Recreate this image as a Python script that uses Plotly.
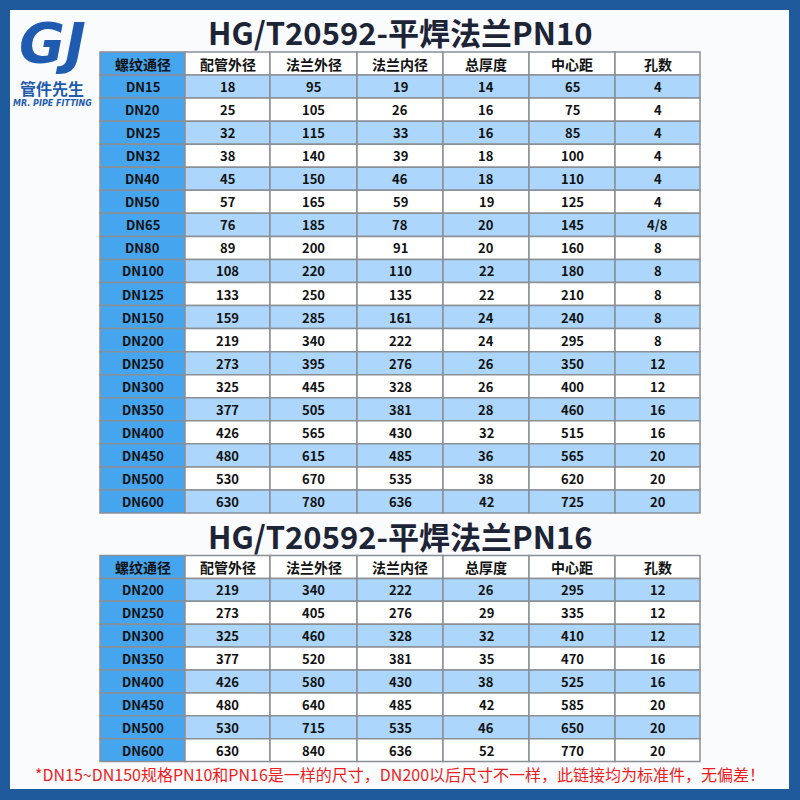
import plotly.graph_objects as go

headers = ["螺纹通径", "配管外径", "法兰外径", "法兰内径", "总厚度", "中心距", "孔数"]
dn1 = ["DN15","DN20","DN25","DN32","DN40","DN50","DN65","DN80","DN100","DN125","DN150","DN200","DN250","DN300","DN350","DN400","DN450","DN500","DN600"]
pipe_od1 = [18,25,32,38,45,57,76,89,108,133,159,219,273,325,377,426,480,530,630]
flange_od1 = [95,105,115,140,150,165,185,200,220,250,285,340,395,445,505,565,615,670,780]
flange_id1 = [19,26,33,39,46,59,78,91,110,135,161,222,276,328,381,430,485,535,636]
thick1 = [14,16,16,18,18,19,20,20,22,22,24,24,26,26,28,32,36,38,42]
pcd1 = [65,75,85,100,110,125,145,160,180,210,240,295,350,400,460,515,565,620,725]
holes1 = ["4","4","4","4","4","4","4/8","8","8","8","8","8","12","12","16","16","20","20","20"]

dn2 = ["DN200","DN250","DN300","DN350","DN400","DN450","DN500","DN600"]
pipe_od2 = [219,273,325,377,426,480,530,630]
flange_od2 = [340,405,460,520,580,640,715,840]
flange_id2 = [222,276,328,381,430,485,535,636]
thick2 = [26,29,32,35,38,42,46,52]
pcd2 = [295,335,410,470,525,585,650,770]
holes2 = ["12","12","12","16","16","20","20","20"]

title1 = "HG/T20592-平焊法兰PN10"
title2 = "HG/T20592-平焊法兰PN16"
note = "*DN15~DN150规格PN10和PN16是一样的尺寸，DN200以后尺寸不一样，此链接均为标准件，无偏差！"

FONT = "Noto Sans CJK SC"
shapes = []
ann = []
fig = go.Figure()

shapes.append(dict(type="rect", x0=0, x1=800, y0=0, y1=800, fillcolor="#1f5a9c", line_width=0, layer="below"))
shapes.append(dict(type="rect", x0=10, x1=789, y0=10, y1=789, fillcolor="#fafbfc", line_width=0, layer="below"))

colx = [100, 185, 270, 357, 443, 529, 615, 700]

def table(top, rowh, dns, cols):
    nrows = len(dns) + 1
    for r in range(nrows):
        y0 = top + r * rowh
        y1 = y0 + rowh
        for c in range(7):
            x0, x1 = colx[c], colx[c + 1]
            if c == 0:
                fill = "#45a6ef"
            elif r == 0:
                fill = "#ffffff"
            elif r % 2 == 1:
                fill = "#acd6fb"
            else:
                fill = "#ffffff"
            shapes.append(dict(type="rect", x0=x0, x1=x1, y0=y0, y1=y1, fillcolor=fill,
                               line=dict(color="#8a8f96", width=1.5)))
            if r == 0:
                txt = headers[c]
            elif c == 0:
                txt = dns[r - 1]
            else:
                txt = str(cols[c - 1][r - 1])
            ann.append(dict(x=(x0 + x1) / 2, y=(y0 + y1) / 2, text="<b>%s</b>" % txt, showarrow=False,
                            font=dict(family=FONT, size=14 if r == 0 else 13, color="#111111"),
                            xref="x", yref="y"))

table(52, 23.05, dn1, [pipe_od1, flange_od1, flange_id1, thick1, pcd1, holes1])
table(555.5, 22.9, dn2, [pipe_od2, flange_od2, flange_id2, thick2, pcd2, holes2])

ann.append(dict(x=400, y=31, text="<b>%s</b>" % title1, showarrow=False, xref="x", yref="y",
                font=dict(family=FONT, size=31, color="#1d2436")))
ann.append(dict(x=400, y=535, text="<b>%s</b>" % title2, showarrow=False, xref="x", yref="y",
                font=dict(family=FONT, size=31, color="#1d2436")))
ann.append(dict(x=400, y=774, text=note, showarrow=False, xref="x", yref="y",
                font=dict(family=FONT, size=16, color="#ee1c1c")))
ann.append(dict(x=52, y=42, text="<b><i>GJ</i></b>", showarrow=False, xref="x", yref="y",
                font=dict(family="DejaVu Sans", size=56, color="#1f5bb0")))
ann.append(dict(x=52, y=88, text="<b>管件先生</b>", showarrow=False, xref="x", yref="y",
                font=dict(family=FONT, size=16, color="#1f5bb0")))
ann.append(dict(x=52, y=103, text="<b><i>MR. PIPE FITTING</i></b>", showarrow=False, xref="x", yref="y",
                font=dict(family="DejaVu Sans", size=8, color="#1f5bb0")))

fig.update_layout(width=800, height=800, margin=dict(l=0, r=0, t=0, b=0),
                  plot_bgcolor="white", paper_bgcolor="white",
                  xaxis=dict(range=[0, 800], visible=False, fixedrange=True),
                  yaxis=dict(range=[800, 0], visible=False, fixedrange=True),
                  shapes=shapes, annotations=ann, showlegend=False)
fig.write_html("out.html", config={"displayModeBar": False},
               post_script="document.body.style.margin='0';document.body.style.overflow='hidden';")
